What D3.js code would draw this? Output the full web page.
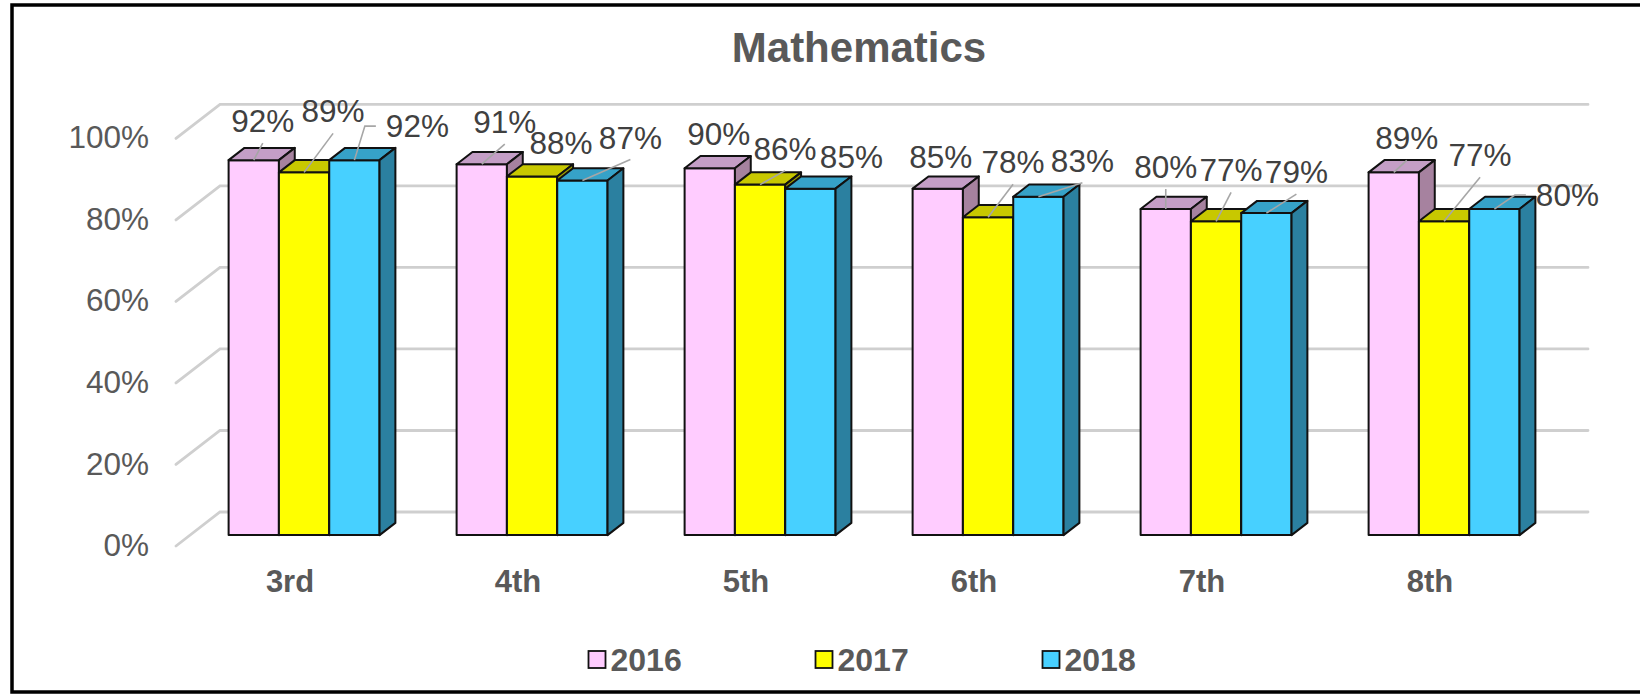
<!DOCTYPE html>
<html>
<head>
<meta charset="utf-8">
<script src="https://cdn.jsdelivr.net/npm/d3@7"></script>
<style>
  body { margin: 0; background: #fff; }
  svg { display: block; }
</style>
</head>
<body>
<div id="math-chart"></div>
<script>
const categories = ['3rd', '4th', '5th', '6th', '7th', '8th'];
const seriesNames = ['2016', '2017', '2018'];
const values2016 = [0.92, 0.91, 0.90, 0.85, 0.80, 0.89];
const values2017 = [0.89, 0.88, 0.86, 0.78, 0.77, 0.77];
const values2018 = [0.92, 0.87, 0.85, 0.83, 0.79, 0.80];
const yTicks = [0, 0.2, 0.4, 0.6, 0.8, 1];

// label nudges (dx, dy from top of bar, show leader) - excel moved them by hand
const labelNudge2016 = [[9, -28, 1], [23, -31, 1], [9, -23, 0], [3, -21, 0], [0, -31, 1], [13, -23, 1]];
const labelNudge2017 = [[29, -50, 1], [29, -22, 0], [25, -25, 1], [25, -44, 1], [15, -40, 1], [36, -55, 1]];
const labelNudge2018 = [[63, -23, 1], [48, -32, 1], [41, -21, 0], [44, -25, 1], [30, -30, 1], [73, -3, 1]];

const seriesValues = [values2016, values2017, values2018];
const nudges = [labelNudge2016, labelNudge2017, labelNudge2018];

// Config
const width = 1640;
const height = 695;
const plot = {left: 176, right: 1544, floor: 546, top: 138.4};
const depth = {dx: 44, dy: 34};
const barZ = [0.32, 0.68];
const font = 'Liberation Sans, Arial, sans-serif';

const colors = {
  front: ['#ffccff', '#ffff00', '#47d0ff'],
  top: ['#c49ec6', '#c8c800', '#36a2c8'],
  side: ['#a6829f', '#a0a000', '#2b80a0']
};

// Scales
const x0 = d3.scaleBand()
  .domain(categories)
  .range([plot.left, plot.right])
  .paddingInner(0.338)
  .paddingOuter(0.169);

const x1 = d3.scaleBand()
  .domain(seriesNames)
  .range([0, x0.bandwidth()]);

const y = d3.scaleLinear()
  .domain([0, 1])
  .range([plot.floor, plot.top]);

// 3d -> screen
const proj = (x, v, z) => [x + z * depth.dx, y(v) - z * depth.dy];
const poly = pts => pts.map(p => p.join(',')).join(' ');

const svg = d3.select('#math-chart').append('svg')
  .attr('width', width)
  .attr('height', height);

svg.append('rect')
  .attr('width', width)
  .attr('height', height)
  .attr('fill', '#fff');

// Frame
svg.append('rect')
  .attr('x', 12)
  .attr('y', 5)
  .attr('width', width)
  .attr('height', 687)
  .attr('fill', 'none')
  .attr('stroke', '#000')
  .attr('stroke-width', 3.5);

// Title
svg.append('text')
  .attr('x', 859)
  .attr('y', 62)
  .attr('text-anchor', 'middle')
  .attr('font-family', font)
  .attr('font-size', 42)
  .attr('font-weight', 'bold')
  .attr('fill', '#595959')
  .text('Mathematics');

// Gridlines (side wall + back wall)
const grid = svg.append('g')
  .attr('fill', 'none')
  .attr('stroke', '#cfcfcf')
  .attr('stroke-width', 2.8)
  .attr('stroke-linecap', 'round');

grid.selectAll('polyline')
  .data(yTicks)
  .join('polyline')
  .attr('points', d => poly([proj(plot.left, d, 0), proj(plot.left, d, 1), proj(plot.right, d, 1)]));

// Y axis labels
svg.append('g')
  .selectAll('text')
  .data(yTicks)
  .join('text')
  .attr('x', 149)
  .attr('y', d => y(d) - 1)
  .attr('dy', '0.35em')
  .attr('text-anchor', 'end')
  .attr('font-family', font)
  .attr('font-size', 31.5)
  .attr('fill', '#595959')
  .text(d => d3.format('.0%')(d));

// Bars, painted left to right so each bar hides the side of the one before
const bars = [];
categories.forEach((cat, ci) => {
  seriesNames.forEach((s, si) => {
    bars.push({cat, s, si, ci, value: seriesValues[si][ci]});
  });
});

const barG = svg.append('g')
  .attr('stroke', '#111')
  .attr('stroke-width', 2)
  .attr('stroke-linejoin', 'round');

bars.forEach(d => {
  const xa = x0(d.cat) + x1(d.s);
  const xb = xa + x1.bandwidth();
  const [za, zb] = barZ;
  const g = barG.append('g');
  g.append('polygon')
    .attr('fill', colors.front[d.si])
    .attr('points', poly([proj(xa, 0, za), proj(xb, 0, za), proj(xb, d.value, za), proj(xa, d.value, za)]));
  g.append('polygon')
    .attr('fill', colors.top[d.si])
    .attr('points', poly([proj(xa, d.value, za), proj(xb, d.value, za), proj(xb, d.value, zb), proj(xa, d.value, zb)]));
  g.append('polygon')
    .attr('fill', colors.side[d.si])
    .attr('points', poly([proj(xb, 0, za), proj(xb, d.value, za), proj(xb, d.value, zb), proj(xb, 0, zb)]));
});

// Data labels + leader lines
const labelG = svg.append('g');
const leaderG = svg.append('g')
  .attr('fill', 'none')
  .attr('stroke', '#a6a6a6')
  .attr('stroke-width', 1.6);

bars.forEach(d => {
  const [dx, dy, showLeader] = nudges[d.si][d.ci];
  const anchor = proj(x0(d.cat) + x1(d.s) + x1.bandwidth() / 2, d.value, barZ[0]);
  const lx = anchor[0] + dx;
  const ly = anchor[1] + dy;
  const t = labelG.append('text')
    .attr('x', lx)
    .attr('y', ly)
    .attr('text-anchor', 'middle')
    .attr('font-family', font)
    .attr('font-size', 31.5)
    .attr('fill', '#404040')
    .text(d3.format('.0%')(d.value));

  if (!showLeader) return;
  const box = t.node().getBBox();
  if (box.x - anchor[0] > 25) {
    const my = ly - 11;
    leaderG.append('polyline')
      .attr('points', poly([anchor, [box.x - 21, my], [box.x - 10, my]]));
  } else {
    leaderG.append('line')
      .attr('x1', anchor[0])
      .attr('y1', anchor[1])
      .attr('x2', lx)
      .attr('y2', ly + 11);
  }
});

// Category labels
svg.append('g')
  .selectAll('text')
  .data(categories)
  .join('text')
  .attr('x', d => x0(d) + x0.bandwidth() / 2)
  .attr('y', 592)
  .attr('text-anchor', 'middle')
  .attr('font-family', font)
  .attr('font-size', 31)
  .attr('font-weight', 'bold')
  .attr('fill', '#595959')
  .text(d => d);

// Legend
const legend = svg.append('g')
  .selectAll('g')
  .data(seriesNames)
  .join('g')
  .attr('transform', (d, i) => `translate(${588.5 + i * 227},651)`);

legend.append('rect')
  .attr('width', 17)
  .attr('height', 17)
  .attr('fill', (d, i) => colors.front[i])
  .attr('stroke', '#111')
  .attr('stroke-width', 1.8);

legend.append('text')
  .attr('x', 22)
  .attr('y', 20)
  .attr('font-family', font)
  .attr('font-size', 32)
  .attr('font-weight', 'bold')
  .attr('fill', '#595959')
  .text(d => d);
</script>
</body>
</html>
